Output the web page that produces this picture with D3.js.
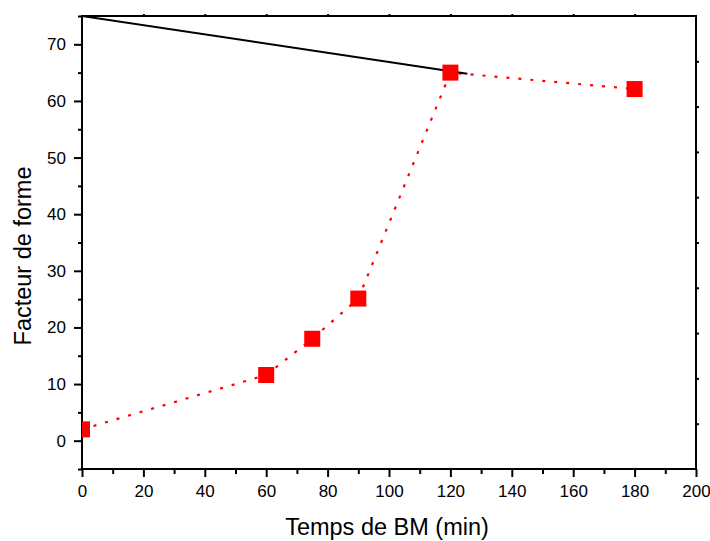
<!DOCTYPE html>
<html>
<head>
<meta charset="utf-8">
<script src="https://cdn.jsdelivr.net/npm/d3@7"></script>
<style>
  html, body { margin: 0; padding: 0; background: #fff; }
  svg { display: block; font-family: "Liberation Sans", Arial, sans-serif; }
</style>
</head>
<body>
<svg id="chart" width="710" height="541"></svg>
<script>
// ---- data ----
const timeMin = [0, 60, 75, 90, 120, 180];
const formFactor = [2, 11.6, 18, 25.1, 65, 62.1];
const lineX = [0, 125.5];
const lineY = [75, 64.8];
const xTicks = [0, 20, 40, 60, 80, 100, 120, 140, 160, 180, 200];
const xMinor = [10, 30, 50, 70, 90, 110, 130, 150, 170, 190];
const yTicks = [0, 10, 20, 30, 40, 50, 60, 70];
const yMinor = [-5, 5, 15, 25, 35, 45, 55, 65, 75];
const rightTicks = [0.1, 0.2, 0.3, 0.4, 0.5, 0.6, 0.7, 0.8, 0.9];
const xTitle = "Temps de BM (min)";
const yTitle = "Facteur de forme";

const svg = d3.select("#chart");
const L = 82, R = 696, T = 16, B = 469;
const x = d3.scaleLinear().domain([0, 200]).range([L, R]);
const y = d3.scaleLinear().domain([-5, 75]).range([B, T]);
const yr = d3.scaleLinear().domain([0, 1]).range([B, T]);

svg.append("defs").append("clipPath").attr("id", "clip")
  .append("rect").attr("x", L).attr("y", T).attr("width", R - L).attr("height", B - T);

function styleAxis(g) {
  g.select(".domain").remove();
  g.selectAll("line").attr("stroke", "#000").attr("stroke-width", 2);
  g.selectAll("text").attr("fill", "#000").attr("font-size", 17)
    .attr("font-family", '"Liberation Sans", Arial, sans-serif');
}

// bottom axis
svg.append("g").attr("transform", `translate(0,${B})`)
  .call(d3.axisBottom(x).tickValues(xTicks).tickSize(8).tickPadding(8).tickFormat(d3.format("d")))
  .call(styleAxis);
svg.append("g").attr("transform", `translate(0,${B})`)
  .call(d3.axisBottom(x).tickValues(xMinor).tickSize(5).tickFormat(""))
  .call(styleAxis);
// left axis
svg.append("g").attr("transform", `translate(${L},0)`)
  .call(d3.axisLeft(y).tickValues(yTicks).tickSize(8).tickPadding(8).tickFormat(d3.format("d")))
  .call(styleAxis);
svg.append("g").attr("transform", `translate(${L},0)`)
  .call(d3.axisLeft(y).tickValues(yMinor).tickSize(4).tickFormat(""))
  .call(styleAxis);
// top axis (small ticks)
svg.append("g").attr("transform", `translate(0,${T})`)
  .call(d3.axisTop(x).tickValues(xTicks.slice(1, -1)).tickSize(2).tickFormat(""))
  .call(styleAxis);
// right axis (small ticks)
svg.append("g").attr("transform", `translate(${R},0)`)
  .call(d3.axisRight(yr).tickValues(rightTicks).tickSize(3).tickFormat(""))
  .call(styleAxis);

// frame
svg.append("rect").attr("x", L).attr("y", T).attr("width", R - L).attr("height", B - T)
  .attr("fill", "none").attr("stroke", "#000").attr("stroke-width", 2);

const plot = svg.append("g").attr("clip-path", "url(#clip)");

const pts = timeMin.map((t, i) => [t, formFactor[i]]);

// red dotted line
plot.append("path")
  .datum(pts)
  .attr("d", d3.line().x(d => x(d[0])).y(d => y(d[1])))
  .attr("fill", "none").attr("stroke", "#ff0000").attr("stroke-width", 2.2)
  .attr("stroke-dasharray", "3,9");

// black straight line
plot.append("path")
  .datum(lineX.map((v, i) => [v, lineY[i]]))
  .attr("d", d3.line().x(d => x(d[0])).y(d => y(d[1])))
  .attr("fill", "none").attr("stroke", "#000").attr("stroke-width", 2);

// square markers
const S = 16;
plot.selectAll("rect.m").data(pts).join("rect").attr("class", "m")
  .attr("x", d => x(d[0]) - S / 2).attr("y", d => y(d[1]) - S / 2)
  .attr("width", S).attr("height", S).attr("fill", "#ff0000");

// titles
svg.append("text").attr("x", (L + R) / 2 - 2).attr("y", 535)
  .attr("text-anchor", "middle").attr("font-size", 23.5).attr("fill", "#000")
  .text(xTitle);
svg.append("text").attr("transform", "translate(31,256) rotate(-90)")
  .attr("text-anchor", "middle").attr("font-size", 23.5).attr("fill", "#000")
  .text(yTitle);
</script>
</body>
</html>
